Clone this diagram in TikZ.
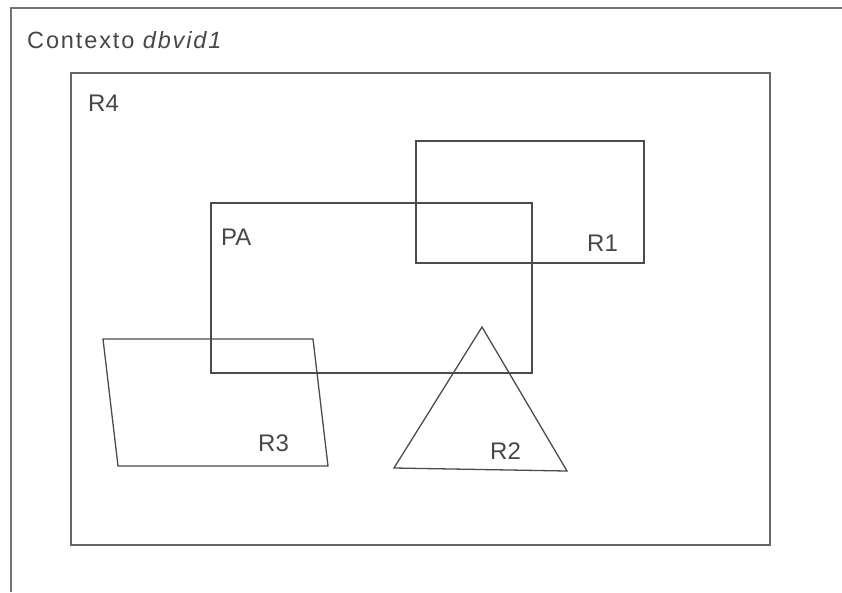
\documentclass[tikz,border=0pt]{standalone}
\usepackage{fontspec}
\setmainfont{Liberation Sans}
\begin{document}
\begin{tikzpicture}[x=1pt,y=-1pt,
  frame/.style={draw=black!55,line width=1.6pt},
  region/.style={draw=black!70,line width=1.3pt,line join=miter},
  lbl/.style={anchor=base west,inner sep=0pt,text=black!72,font=\fontsize{24}{28}\selectfont}]
  \useasboundingbox[fill=white] (0,0) rectangle (842,592);
  % context frame, open towards the bottom and right
  \draw[frame] (11,592) -- (11,8) -- (842,8);
  \node[lbl,font=\fontsize{23.5}{28}\selectfont\addfontfeatures{LetterSpace=8}] (ctx) at (27,48) {Contexto \textit{dbvid1}};
  % R4
  \draw[frame,draw=black!60] (71,73) rectangle (770,545);
  \node[lbl] (r4) at (88,111) {R4};
  % R1
  \draw[region] (416,141) rectangle (644,263);
  \node[lbl] (r1) at (587,251) {R1};
  % PA
  \draw[region] (211,203) rectangle (532,373);
  \node[lbl] (pa) at (221,245) {PA};
  % R3 parallelogram
  \draw[region] (103,339) -- (313,339) -- (328,466) -- (118,466) -- cycle;
  \node[lbl] (r3) at (258,451) {R3};
  % R2 triangle
  \draw[region] (482,327) -- (567,471) -- (394,468) -- cycle;
  \node[lbl] (r2) at (490,459) {R2};
\end{tikzpicture}
\end{document}
